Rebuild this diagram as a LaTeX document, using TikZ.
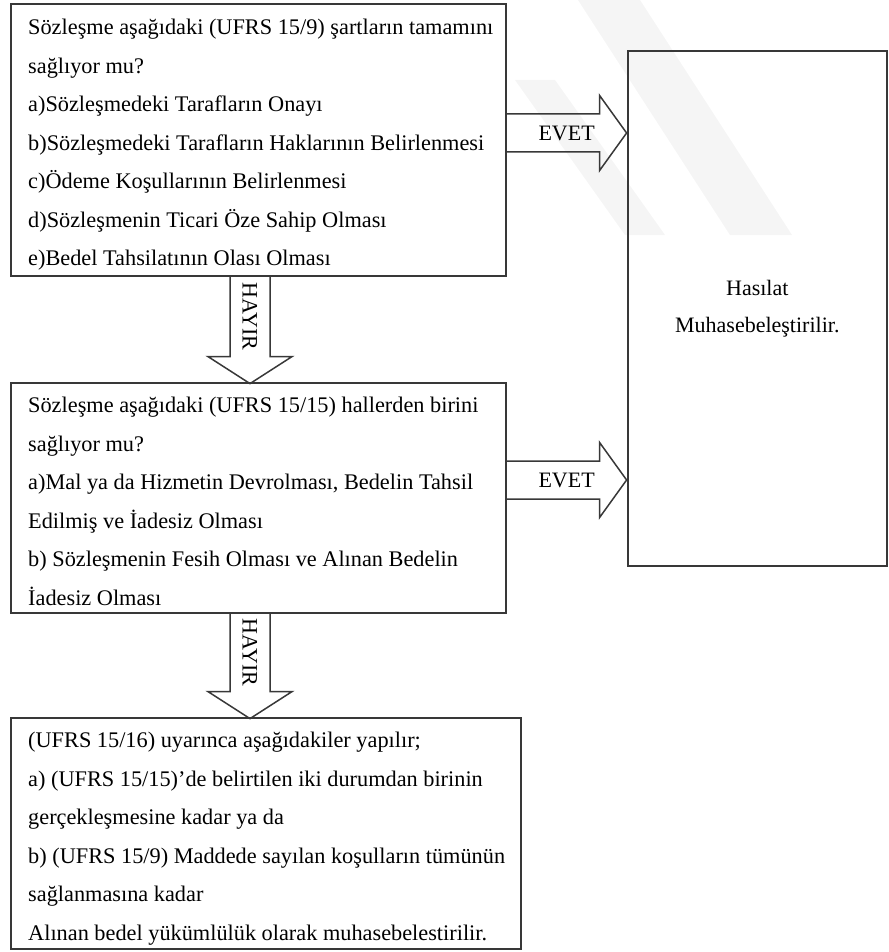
\documentclass[tikz,border=0pt]{standalone}
\usepackage{fontspec}
\setmainfont{Liberation Serif}
\usetikzlibrary{calc}

% block arrow pointing right; #1 = start point on the box edge (shaft centre)
\newcommand\rightblock[1]{%
  \draw[blk] ($(#1)+(0,-19)$) -- ++(93,0) -- ++(0,-18.5) -- ++(27,37.5)
    -- ++(-27,37.5) -- ++(0,-18.5) -- ++(-93,0);}
% block arrow pointing down; #1 = start point, #2 = shaft length
\newcommand\downblock[2]{%
  \draw[blk] ($(#1)+(-20,0)$) -- ++(0,#2) -- ++(-22,0) -- ++(42,27)
    -- ++(42,-27) -- ++(-22,0) -- ++(0,-#2);}

\begin{document}
\begin{tikzpicture}[x=1pt,y=-1pt,
  box/.style={draw=black!78, line width=1.6pt, rectangle, inner sep=0pt, anchor=north west},
  txt/.style={align=left, inner sep=0pt, anchor=north west,
    font=\fontsize{22.3}{38.5}\selectfont},
  blk/.style={draw=black!78, line width=1.5pt, line join=miter},
  lbl/.style={inner sep=0pt, font=\fontsize{22}{26}\selectfont}]
\useasboundingbox (0,0) rectangle (888,952);

% faint background watermark bands
\fill[black!4] (578,0) -- (640,0) -- (792,235) -- (730,235) -- cycle;
\fill[black!4] (515,80) -- (555,80) -- (665,235) -- (625,235) -- cycle;

% boxes
\node[box, minimum width=495pt, minimum height=272pt] (q1) at (10,3) {};
\node[box, minimum width=495pt, minimum height=230pt] (q2) at (10,382) {};
\node[box, minimum width=510pt, minimum height=231pt] (q3) at (10,717) {};
\node[box, minimum width=259pt, minimum height=515pt, align=center,
  font=\fontsize{22}{37}\selectfont] (res) at (627,50)
  {Hasılat\\Muhasebeleştirilir.};

% box texts
\node[txt] (t1) at ($(q1.north west)+(18,16)$) {%
Sözleşme aşağıdaki (UFRS 15/9) şartların tamamını\\
sağlıyor mu?\\
a)Sözleşmedeki Tarafların Onayı\\
b)Sözleşmedeki Tarafların Haklarının Belirlenmesi\\
c)Ödeme Koşullarının Belirlenmesi\\
d)Sözleşmenin Ticari Öze Sahip Olması\\
e)Bedel Tahsilatının Olası Olması};

\node[txt] (t2) at ($(q2.north west)+(18,15)$) {%
Sözleşme aşağıdaki (UFRS 15/15) hallerden birini\\
sağlıyor mu?\\
a)Mal ya da Hizmetin Devrolması, Bedelin Tahsil\\
Edilmiş ve İadesiz Olması\\
b) Sözleşmenin Fesih Olması ve Alınan Bedelin\\
İadesiz Olması};

\node[txt] (t3) at ($(q3.north west)+(18,15)$) {%
(UFRS 15/16) uyarınca aşağıdakiler yapılır;\\
a) (UFRS 15/15)'de belirtilen iki durumdan birinin\\
gerçekleşmesine kadar ya da\\
b) (UFRS 15/9) Maddede sayılan koşulların tümünün\\
sağlanmasına kadar\\
Alınan bedel yükümlülük olarak muhasebelestirilir.};

% connectors
\coordinate (e1) at ($(q1.north east)+(0,130)$);
\coordinate (e2) at ($(q2.north east)+(0,98)$);
\coordinate (h1) at ($(q1.south west)+(240,0)$);
\coordinate (h2) at ($(q2.south west)+(240,0)$);

\rightblock{e1}
\rightblock{e2}
\downblock{h1}{80}
\downblock{h2}{78}

\node[lbl] (l1) at ($(e1)+(60,0)$) {EVET};
\node[lbl] (l2) at ($(e2)+(60,0)$) {EVET};
\node[lbl, rotate=-90] (l3) at ($(h1)+(0,40)$) {HAYIR};
\node[lbl, rotate=-90] (l4) at ($(h2)+(0,39)$) {HAYIR};
\end{tikzpicture}
\end{document}
